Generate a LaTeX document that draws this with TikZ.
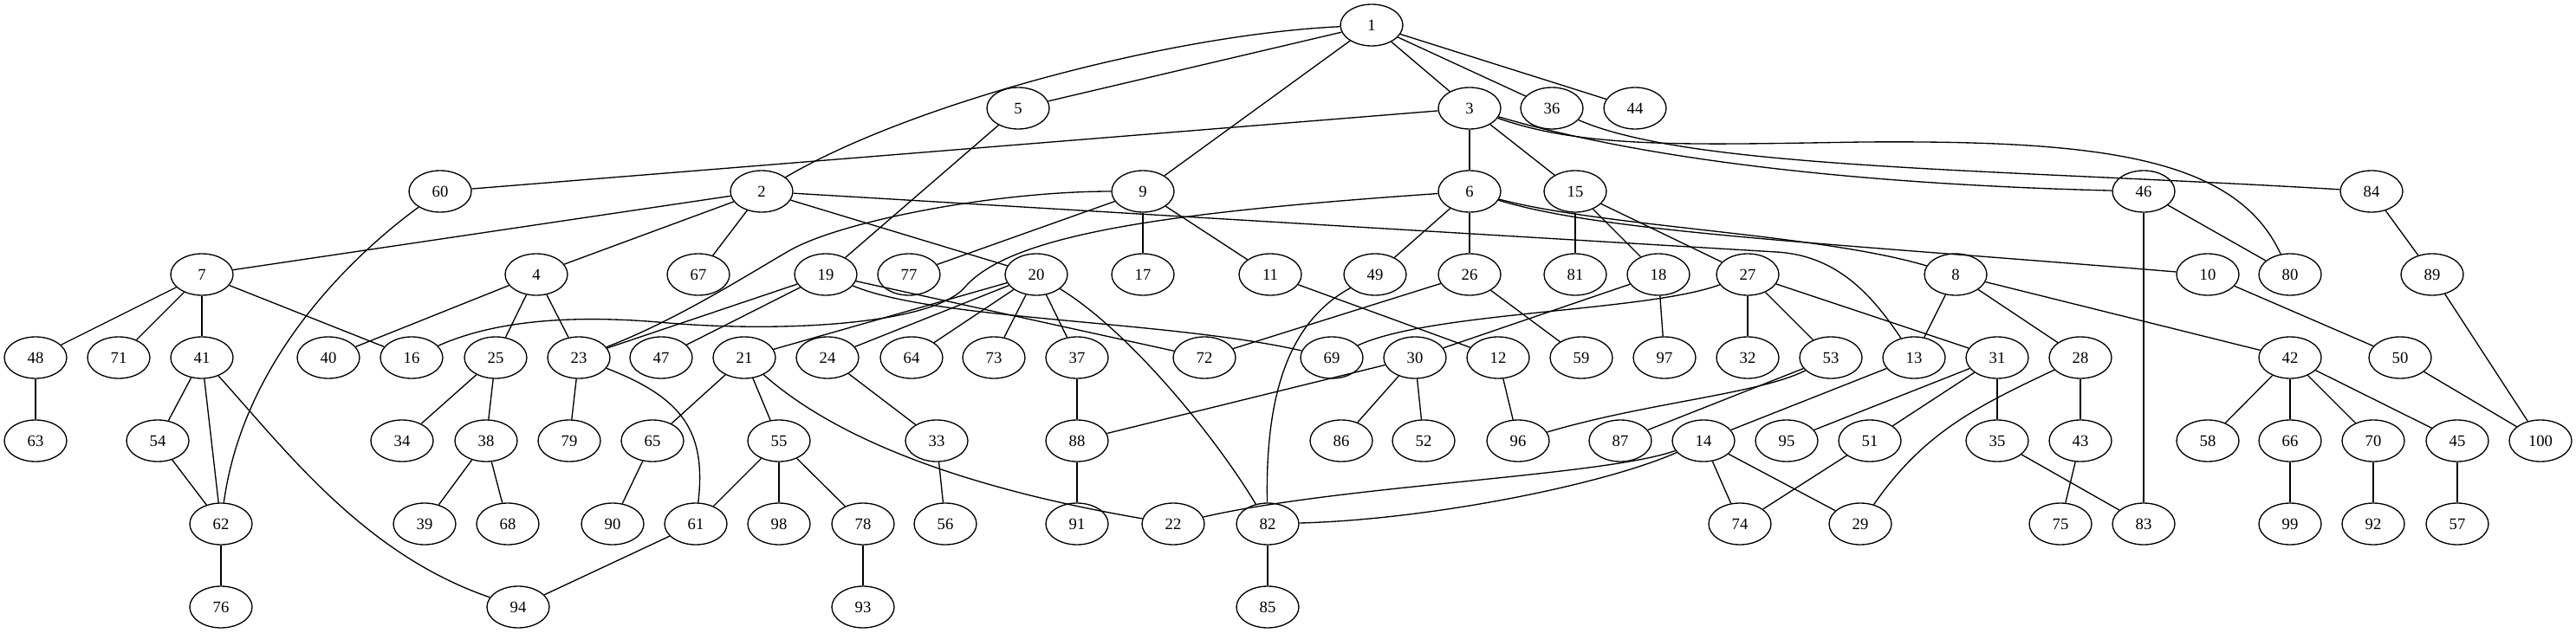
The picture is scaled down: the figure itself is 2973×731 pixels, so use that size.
\documentclass[tikz,border=0pt]{standalone}
\usepackage{fontspec}
\setmainfont{Liberation Serif}
\usetikzlibrary{shapes}
\tikzstyle{Gnode}=[draw,ellipse,minimum width=54pt,minimum height=36pt,inner sep=0,font=\fontsize{14}{16}\selectfont]
\tikzstyle{Gedge}=[every edge/.style={draw}]
\newcommand{\vx}[3]{\node[Gnode] (n#1) at (#2,#3) {#1}}
\begin{document}
\begin{tikzpicture}[x=0.75pt,y=-0.75pt,line width=1pt,Gedge]
	\useasboundingbox (0,0) rectangle (2973,731);
	% rank 0 to 2
	\vx{1}{1583}{29};
	\vx{5}{1175}{125}; \vx{3}{1696}{125}; \vx{36}{1791}{125}; \vx{44}{1887}{125};
	\vx{60}{508}{221}; \vx{2}{879}{221}; \vx{9}{1319}{221}; \vx{6}{1696}{221};
	\vx{15}{1818}{221}; \vx{46}{2474}{221}; \vx{84}{2737}{221};
	% rank 3
	\vx{7}{233}{317}; \vx{4}{619}{317}; \vx{67}{806}{317}; \vx{19}{953}{317};
	\vx{77}{1049}{317}; \vx{20}{1196}{317}; \vx{17}{1319}{317}; \vx{11}{1466}{317};
	\vx{49}{1587}{317}; \vx{26}{1696}{317}; \vx{81}{1818}{317}; \vx{18}{1914}{317};
	\vx{27}{2017}{317}; \vx{8}{2257}{317}; \vx{10}{2548}{317}; \vx{80}{2643}{317};
	\vx{89}{2807}{317};
	% rank 4
	\vx{48}{41}{413}; \vx{71}{137}{413}; \vx{41}{233}{413}; \vx{40}{379}{413};
	\vx{16}{475}{413}; \vx{25}{572}{413}; \vx{23}{668}{413}; \vx{47}{763}{413};
	\vx{21}{859}{413}; \vx{24}{955}{413}; \vx{64}{1052}{413}; \vx{73}{1147}{413};
	\vx{37}{1243}{413}; \vx{72}{1390}{413}; \vx{69}{1537}{413}; \vx{30}{1633}{413};
	\vx{12}{1729}{413}; \vx{59}{1825}{413}; \vx{97}{1921}{413}; \vx{32}{2017}{413};
	\vx{53}{2113}{413}; \vx{13}{2209}{413}; \vx{31}{2305}{413}; \vx{28}{2401}{413};
	\vx{42}{2643}{413}; \vx{50}{2770}{413};
	% rank 5
	\vx{63}{41}{509}; \vx{54}{182}{509}; \vx{34}{464}{509}; \vx{38}{561}{509};
	\vx{79}{657}{509}; \vx{65}{753}{509}; \vx{55}{899}{509}; \vx{33}{1081}{509};
	\vx{88}{1243}{509}; \vx{86}{1548}{509}; \vx{52}{1643}{509}; \vx{96}{1752}{509};
	\vx{87}{1870}{509}; \vx{14}{1966}{509}; \vx{95}{2062}{509}; \vx{51}{2158}{509};
	\vx{35}{2305}{509}; \vx{43}{2401}{509}; \vx{58}{2548}{509}; \vx{66}{2643}{509};
	\vx{70}{2739}{509}; \vx{45}{2836}{509}; \vx{100}{2932}{509};
	% rank 6 and 7
	\vx{62}{255}{605}; \vx{39}{490}{605}; \vx{68}{586}{605}; \vx{90}{707}{605};
	\vx{61}{803}{605}; \vx{98}{899}{605}; \vx{78}{996}{605}; \vx{56}{1091}{605};
	\vx{91}{1243}{605}; \vx{22}{1354}{605}; \vx{82}{1463}{605}; \vx{74}{2008}{605};
	\vx{29}{2147}{605}; \vx{75}{2378}{605}; \vx{83}{2474}{605}; \vx{99}{2643}{605};
	\vx{92}{2739}{605}; \vx{57}{2836}{605};
	\vx{76}{255}{701}; \vx{94}{598}{701}; \vx{93}{996}{701}; \vx{85}{1463}{701};

	% straight links
	\path (n1) edge (n5) edge (n9) edge (n3) edge (n36) edge (n44);
	\path (n3) edge (n60) edge (n6) edge (n15);
	\path (n5) edge (n19);
	\path (n2) edge (n7) edge (n4) edge (n67) edge (n20);
	\path (n9) edge (n77) edge (n17) edge (n11);
	\path (n6) edge (n49) edge (n26);
	\path (n15) edge (n81) edge (n18) edge (n27);
	\path (n46) edge (n80) edge (n83);
	\path (n84) edge (n89);
	\path (n7) edge (n48) edge (n71) edge (n41) edge (n16);
	\path (n4) edge (n40) edge (n25) edge (n23);
	\path (n19) edge (n23) edge (n47) edge (n72);
	\path (n20) edge (n21) edge (n24) edge (n64) edge (n73) edge (n37);
	\path (n11) edge (n12);
	\path (n26) edge (n72) edge (n59);
	\path (n18) edge (n30) edge (n97);
	\path (n27) edge (n32) edge (n53) edge (n31);
	\path (n8) edge (n13) edge (n28) edge (n42);
	\path (n10) edge (n50);
	\path (n89) edge (n100);
	\path (n48) edge (n63);
	\path (n41) edge (n54) edge (n62);
	\path (n25) edge (n34) edge (n38);
	\path (n23) edge (n79);
	\path (n21) edge (n65) edge (n55);
	\path (n24) edge (n33);
	\path (n37) edge (n88);
	\path (n30) edge (n88) edge (n86) edge (n52);
	\path (n12) edge (n96);
	\path (n53) edge (n87);
	\path (n13) edge (n14);
	\path (n31) edge (n95) edge (n51) edge (n35);
	\path (n28) edge (n43);
	\path (n42) edge (n58) edge (n66) edge (n70) edge (n45);
	\path (n50) edge (n100);
	\path (n54) edge (n62);
	\path (n38) edge (n39) edge (n68);
	\path (n65) edge (n90);
	\path (n55) edge (n61) edge (n98) edge (n78);
	\path (n33) edge (n56);
	\path (n88) edge (n91);
	\path (n14) edge (n74) edge (n29);
	\path (n51) edge (n74);
	\path (n35) edge (n83);
	\path (n43) edge (n75);
	\path (n66) edge (n99);
	\path (n70) edge (n92);
	\path (n45) edge (n57);
	\path (n62) edge (n76);
	\path (n61) edge (n94);
	\path (n78) edge (n93);
	\path (n82) edge (n85);

	% bent links
	\draw (n1) .. controls (1350,40) and (1050,120) .. (n2);
	\draw (n3) .. controls (1830,172) and (1950,167) .. (2150,164) .. controls (2420,162) and (2580,180) .. (n80);
	\draw (n3) .. controls (1900,185) and (2150,213) .. (n46);
	\draw (n36) .. controls (1950,195) and (2300,195) .. (n84);
	\draw (n2) -- (2050,291) .. controls (2120,295) and (2160,340) .. (n13);
	\draw (n6) .. controls (1350,245) and (1170,270) .. (1115,330) .. controls (1080,375) and (900,385) .. (760,372) .. controls (640,362) and (560,375) .. (n16);
	\draw (n6) .. controls (1850,262) and (2100,270) .. (n8);
	\draw (n6) .. controls (1850,268) and (2100,280) .. (n10);
	\draw (n9) .. controls (1150,221) and (970,255) .. (910,290) .. controls (860,319) and (780,370) .. (n23);
	\draw (n60) .. controls (400,300) and (280,420) .. (n62);
	\draw (n21) .. controls (980,520) and (1150,570) .. (n22);
	\draw (n23) .. controls (790,460) and (815,500) .. (n61);
	\draw (n20) .. controls (1300,380) and (1400,500) .. (n82);
	\draw (n49) .. controls (1490,370) and (1460,450) .. (n82);
	\draw (n14) .. controls (1850,550) and (1550,560) .. (n22);
	\draw (n14) .. controls (1850,560) and (1650,600) .. (n82);
	\draw (n28) .. controls (2280,470) and (2220,500) .. (n29);
	\draw (n53) .. controls (2030,455) and (1900,465) .. (n96);
	\draw (n19) .. controls (1080,370) and (1350,370) .. (n69);
	\draw (n27) .. controls (1900,360) and (1650,360) .. (n69);
	\draw (n41) .. controls (330,520) and (420,640) .. (n94);
\end{tikzpicture}
\end{document}
